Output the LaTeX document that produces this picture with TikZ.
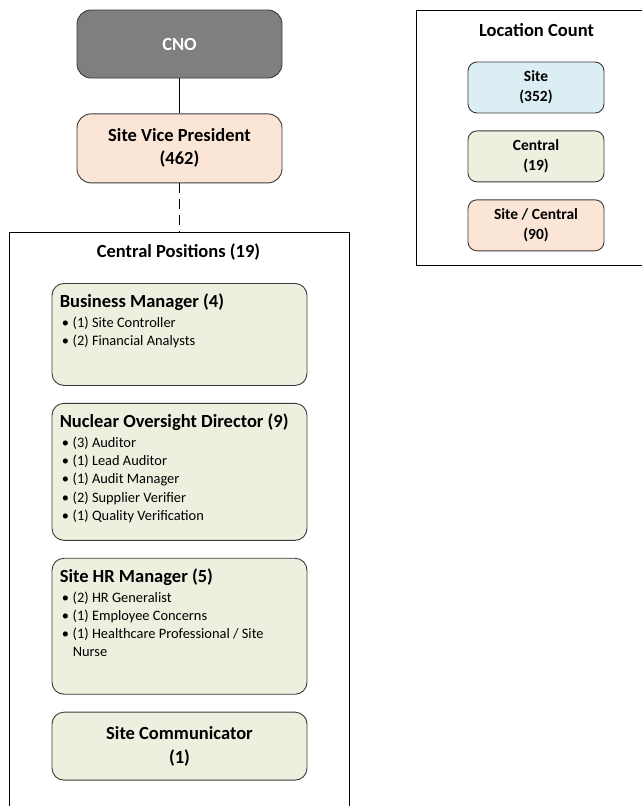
\documentclass[tikz,border=0pt]{standalone}
\usepackage{fontspec}
\setmainfont{Carlito}
\usetikzlibrary{positioning}
\definecolor{cnogray}{HTML}{7F7F7F}
\definecolor{boxline}{HTML}{3A3A3A}
\definecolor{sitepeach}{HTML}{FBE5D6}
\definecolor{siteblue}{HTML}{DAEEF3}
\definecolor{centralgreen}{HTML}{EBF1DE}
\tikzset{
    topbox/.style={rectangle, draw=boxline, line width=0.9pt, rounded corners=14pt, minimum width=205pt, minimum height=68pt, align=center, font=\fontsize{18.5}{23}\selectfont\bfseries},
    countbox/.style={rectangle, draw=boxline, line width=0.9pt, rounded corners=9pt, minimum width=136pt, minimum height=51pt, align=center, font=\fontsize{15.5}{20}\selectfont\bfseries},
    rolebox/.style={rectangle, draw=boxline, line width=0.9pt, fill=centralgreen, rounded corners=12pt, minimum width=255pt, inner sep=0pt},
    roletext/.style={inner sep=0pt, align=left, font=\fontsize{14.4}{18.3}\selectfont},
    titletext/.style={font=\fontsize{18.5}{23}\selectfont\bfseries},
    groupline/.style={draw=black, line width=1pt},
    link/.style={draw=black, line width=1pt},
    dashedlink/.style={link, dash pattern=on 10pt off 6pt},
}
\newcommand{\roleitem}{\hspace*{2pt}\makebox[11pt][l]{\textbullet}}
\newcommand{\rolehead}[1]{{\fontsize{18.5}{22}\selectfont\bfseries #1}}

\begin{document}
\begin{tikzpicture}[x=1pt, y=1pt]
\useasboundingbox (0,0) rectangle (642,-806);

% Chain of command
\node[topbox, fill=cnogray, text=white] (cno) at (179.5,-44) {CNO};
\node[topbox, fill=sitepeach, minimum height=69pt, below=35pt of cno] (svp) {Site Vice President\\(462)};

% Central positions group (open at the bottom)
\coordinate[below=50pt of svp] (grouptop);
\coordinate (groupnw) at (9,-232);
\coordinate (groupne) at (349,-232);
\coordinate (groupsw) at (9,-806);
\coordinate (groupse) at (349,-806);
\draw[groupline] (groupsw) -- (groupnw) -- (groupne) -- (groupse);
\node[titletext] (grouptitle) at (178.5,-252) {Central Positions (19)};

% Role boxes
\node[rolebox, minimum height=102pt, anchor=north] (bizmgr) at (179.5,-283) {};
\node[rolebox, minimum height=137pt, below=17pt of bizmgr] (nucdir) {};
\node[rolebox, minimum height=136pt, below=17pt of nucdir] (hrmgr) {};
\node[rolebox, minimum height=68pt, below=17pt of hrmgr, align=center, font=\fontsize{18.5}{24}\selectfont\bfseries] (sitecomm) {Site Communicator\\(1)};

\node[roletext, below right=11pt and 8pt of bizmgr.north west] (bizmgrtext) {\rolehead{Business Manager (4)}\\[1pt]
    \roleitem (1) Site Controller\\
    \roleitem (2) Financial Analysts};
\node[roletext, below right=11pt and 8pt of nucdir.north west] (nucdirtext) {\rolehead{Nuclear Oversight Director (9)}\\[1pt]
    \roleitem (3) Auditor\\
    \roleitem (1) Lead Auditor\\
    \roleitem (1) Audit Manager\\
    \roleitem (2) Supplier Verifier\\
    \roleitem (1) Quality Verification};
\node[roletext, below right=11pt and 8pt of hrmgr.north west] (hrmgrtext) {\rolehead{Site HR Manager (5)}\\[1pt]
    \roleitem (2) HR Generalist\\
    \roleitem (1) Employee Concerns\\
    \roleitem (1) Healthcare Professional / Site\\
    \hspace*{13pt}Nurse};

% Location count legend (cut at the right edge)
\coordinate (countne) at (642,-10);
\coordinate (countnw) at (416,-10);
\coordinate (countsw) at (416,-265);
\coordinate (countse) at (642,-265);
\draw[groupline] (countne) -- (countnw) -- (countsw) -- (countse);
\node[titletext] (counttitle) at (536.5,-30) {Location Count};
\node[countbox, fill=siteblue] (sitecount) at (536,-87.5) {Site\\(352)};
\node[countbox, fill=centralgreen, below=17pt of sitecount] (centralcount) {Central\\(19)};
\node[countbox, fill=sitepeach, below=17pt of centralcount] (bothcount) {Site / Central\\(90)};

% Connectors
\draw[link] (cno) -- (svp);
\draw[dashedlink] (svp.south) -- (grouptop);

\end{tikzpicture}
\end{document}
